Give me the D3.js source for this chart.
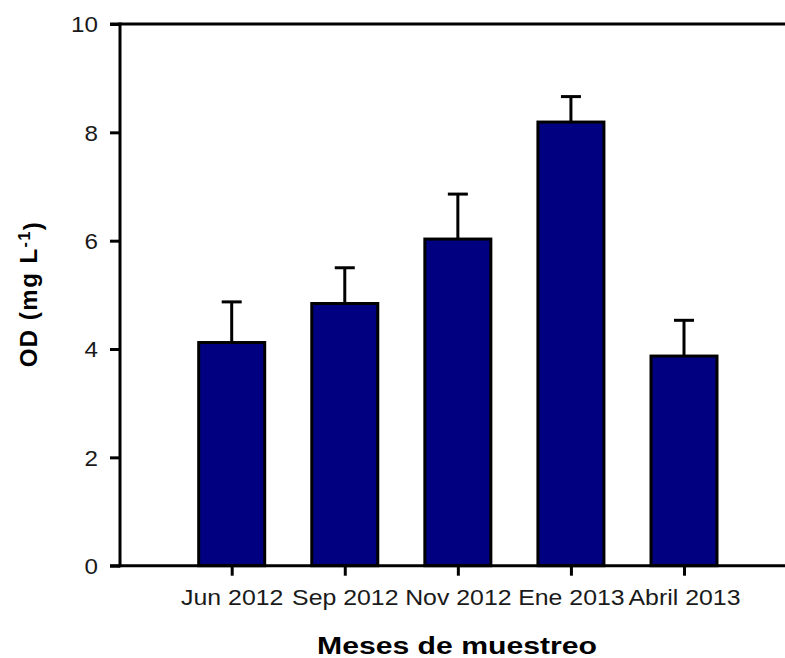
<!DOCTYPE html>
<html>
<head>
<meta charset="utf-8">
<script src="https://cdn.jsdelivr.net/npm/d3@7"></script>
<style>
  html, body { margin: 0; padding: 0; background: #fff; }
  svg { display: block; }
  text { font-family: "Liberation Sans", Arial, sans-serif; }
</style>
</head>
<body>
<svg id="chart" width="785" height="658"></svg>
<script>
// Sampling months and dissolved oxygen (mean ± error)
const months = ["Jun 2012", "Sep 2012", "Nov 2012", "Ene 2013", "Abril 2013"];
const odMean = [4.12, 4.84, 6.03, 8.19, 3.87];
const odError = [0.75, 0.66, 0.83, 0.47, 0.66];
const yTicks = [0, 2, 4, 6, 8, 10];

const plotLeft = 120, plotTop = 24, plotBottom = 565.7, plotRight = 785;

const svg = d3.select("#chart");

const x = d3.scalePoint().domain(months).range([231.7, 684]);
const y = d3.scaleLinear().domain([0, 10]).range([plotBottom, plotTop]);
const barW = 66;

// Bars
svg.append("g").selectAll("rect")
  .data(months)
  .join("rect")
  .attr("x", (d) => x(d) - barW / 2)
  .attr("y", (d, i) => y(odMean[i]))
  .attr("width", barW)
  .attr("height", (d, i) => y(0) - y(odMean[i]))
  .attr("fill", "#000080")
  .attr("stroke", "#000")
  .attr("stroke-width", 3);

// Error bars (upper only)
const eg = svg.append("g").attr("stroke", "#000").attr("stroke-width", 3);
eg.selectAll("line.stem")
  .data(months)
  .join("line")
  .attr("class", "stem")
  .attr("x1", (d) => x(d)).attr("x2", (d) => x(d))
  .attr("y1", (d, i) => y(odMean[i]))
  .attr("y2", (d, i) => y(odMean[i] + odError[i]));
eg.selectAll("line.cap")
  .data(months)
  .join("line")
  .attr("class", "cap")
  .attr("x1", (d) => x(d) - 10).attr("x2", (d) => x(d) + 10)
  .attr("y1", (d, i) => y(odMean[i] + odError[i]))
  .attr("y2", (d, i) => y(odMean[i] + odError[i]));

// Frame lines: left axis, bottom axis and top border
const frame = svg.append("g").attr("stroke", "#000").attr("stroke-width", 3);
frame.append("line").attr("x1", plotLeft).attr("x2", plotLeft).attr("y1", plotTop - 1.5).attr("y2", plotBottom + 1.5);
frame.append("line").attr("x1", plotLeft - 10).attr("x2", plotRight).attr("y1", plotBottom).attr("y2", plotBottom);
frame.append("line").attr("x1", plotLeft - 10).attr("x2", plotRight).attr("y1", plotTop).attr("y2", plotTop);

// Y axis
const yAxis = svg.append("g")
  .attr("transform", `translate(${plotLeft},0)`)
  .call(d3.axisLeft(y).tickValues(yTicks).tickSize(10).tickPadding(12).tickFormat(d3.format("d")));
yAxis.select(".domain").remove();
yAxis.selectAll(".tick line").attr("stroke", "#000").attr("stroke-width", 3);
yAxis.selectAll(".tick text")
  .attr("fill", "#1a1a1a")
  .style("font-size", "22px")
  .attr("dy", "0.36em");

// X axis
const xAxis = svg.append("g")
  .attr("transform", `translate(0,${plotBottom})`)
  .call(d3.axisBottom(x).tickSize(10).tickPadding(14));
xAxis.select(".domain").remove();
xAxis.selectAll(".tick line").attr("stroke", "#000").attr("stroke-width", 3);
xAxis.selectAll(".tick text")
  .attr("fill", "#1a1a1a")
  .style("font-size", "22px")
  .attr("dy", "0.71em");

// Slight horizontal widening of the tick labels
xAxis.selectAll(".tick text").each(function () {
  const w = this.getComputedTextLength();
  d3.select(this).attr("textLength", w * 1.13).attr("lengthAdjust", "spacingAndGlyphs");
});
yAxis.selectAll(".tick text").each(function () {
  const w = this.getComputedTextLength();
  d3.select(this).attr("textLength", w * 1.1).attr("lengthAdjust", "spacingAndGlyphs");
});

// X axis title
svg.append("text")
  .attr("x", 457)
  .attr("y", 654)
  .attr("text-anchor", "middle")
  .style("font-size", "23px")
  .style("font-weight", "bold")
  .attr("fill", "#000")
  .attr("textLength", 280)
  .attr("lengthAdjust", "spacingAndGlyphs")
  .text("Meses de muestreo");

// Y axis title with superscript
const yt = svg.append("text")
  .attr("transform", "translate(37,294) rotate(-90)")
  .attr("text-anchor", "middle")
  .style("font-size", "24px")
  .style("font-weight", "bold")
  .style("letter-spacing", "1.5px")
  .attr("fill", "#000");
yt.append("tspan").text("OD (mg L");
yt.append("tspan").attr("dy", "-0.45em").style("font-size", "16px").text("-1");
yt.append("tspan").attr("dy", "0.45em").text(")");
</script>
</body>
</html>
